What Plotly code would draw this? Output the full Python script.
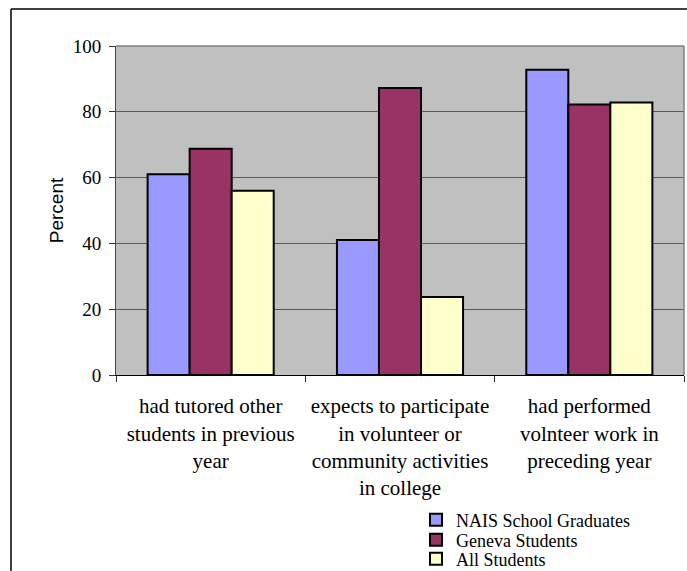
import plotly.graph_objects as go

# Survey categories (multi-line labels)
categories = [
    "had tutored other<br>students in previous<br>year",
    "expects to participate<br>in volunteer or<br>community activities<br>in college",
    "had performed<br>volnteer work in<br>preceding year",
]

nais_graduates = [61, 41, 92.8]
geneva_students = [68.8, 87.2, 82.2]
all_students = [56, 23.7, 82.8]

series_names = ["NAIS School Graduates", "Geneva Students", "All Students"]
series_colors = ["#9999FF", "#993366", "#FFFFCC"]
series_values = [nais_graduates, geneva_students, all_students]

serif = "Liberation Serif, Times New Roman, serif"
sans = "Liberation Sans, Arial, sans-serif"

# plot area geometry in pixels (used to place the frame and legend rows)
PLOT_L, PLOT_R, PLOT_T, PLOT_B = 116, 684, 46, 375
PW, PH = PLOT_R - PLOT_L, PLOT_B - PLOT_T


def px_x(p):
    return (p - PLOT_L) / PW


def px_y(p):
    return (PLOT_B - p) / PH


legend_ids = ["legend", "legend2", "legend3"]
legend_rows = [520, 540, 559]

fig = go.Figure()
for name, color, vals, lid in zip(series_names, series_colors, series_values, legend_ids):
    fig.add_trace(go.Bar(
        x=categories, y=vals, name=name, legend=lid,
        marker=dict(color=color, line=dict(color="black", width=2)),
    ))

legend_common = dict(
    x=px_x(416), xanchor="left", yanchor="middle",
    font=dict(family=serif, size=18, color="black"),
    bgcolor="rgba(0,0,0,0)", borderwidth=0,
)

fig.update_layout(
    width=687, height=571,
    margin=dict(l=PLOT_L, r=687 - PLOT_R, t=PLOT_T, b=571 - PLOT_B, autoexpand=False),
    paper_bgcolor="white",
    plot_bgcolor="#C0C0C0",
    barmode="group",
    bargap=0.334,
    bargroupgap=0,
    font=dict(family=serif, size=19, color="black"),
    showlegend=True,
    legend=dict(y=px_y(legend_rows[0]), **legend_common),
    legend2=dict(y=px_y(legend_rows[1]), **legend_common),
    legend3=dict(y=px_y(legend_rows[2]), **legend_common),
)

fig.update_xaxes(
    type="category",
    showgrid=False,
    showline=True, linecolor="black", linewidth=1,
    ticks="outside", tickson="boundaries", ticklen=6, tickcolor="#333",
    ticklabelstandoff=12,
    tickfont=dict(family=serif, size=21, color="black"),
    automargin=False,
)

fig.update_yaxes(
    range=[0, 100], dtick=20,
    showgrid=True, gridcolor="#5a5a5a", gridwidth=1,
    showline=True, linecolor="#444", linewidth=1,
    ticks="outside", ticklen=6, tickcolor="#333",
    ticklabelstandoff=4,
    tickfont=dict(family=serif, size=19, color="black"),
    title=dict(text="Percent", font=dict(family=sans, size=19, color="black"), standoff=4),
    zeroline=False,
    automargin=False,
)

# Plot-area border (gray) on top and right
fig.add_shape(type="line", xref="paper", yref="paper", x0=0, x1=1, y0=1, y1=1,
              line=dict(color="#808080", width=1.5))
fig.add_shape(type="line", xref="paper", yref="paper", x0=1, x1=1, y0=0, y1=1,
              line=dict(color="#808080", width=1.5))

# Outer chart frame: top and left edges
fig.add_shape(type="line", xref="paper", yref="paper",
              x0=px_x(11), x1=px_x(690), y0=px_y(9), y1=px_y(9),
              line=dict(color="black", width=1.5))
fig.add_shape(type="line", xref="paper", yref="paper",
              x0=px_x(11), x1=px_x(11), y0=px_y(9), y1=px_y(575),
              line=dict(color="black", width=1.5))

fig.write_html("out.html")
